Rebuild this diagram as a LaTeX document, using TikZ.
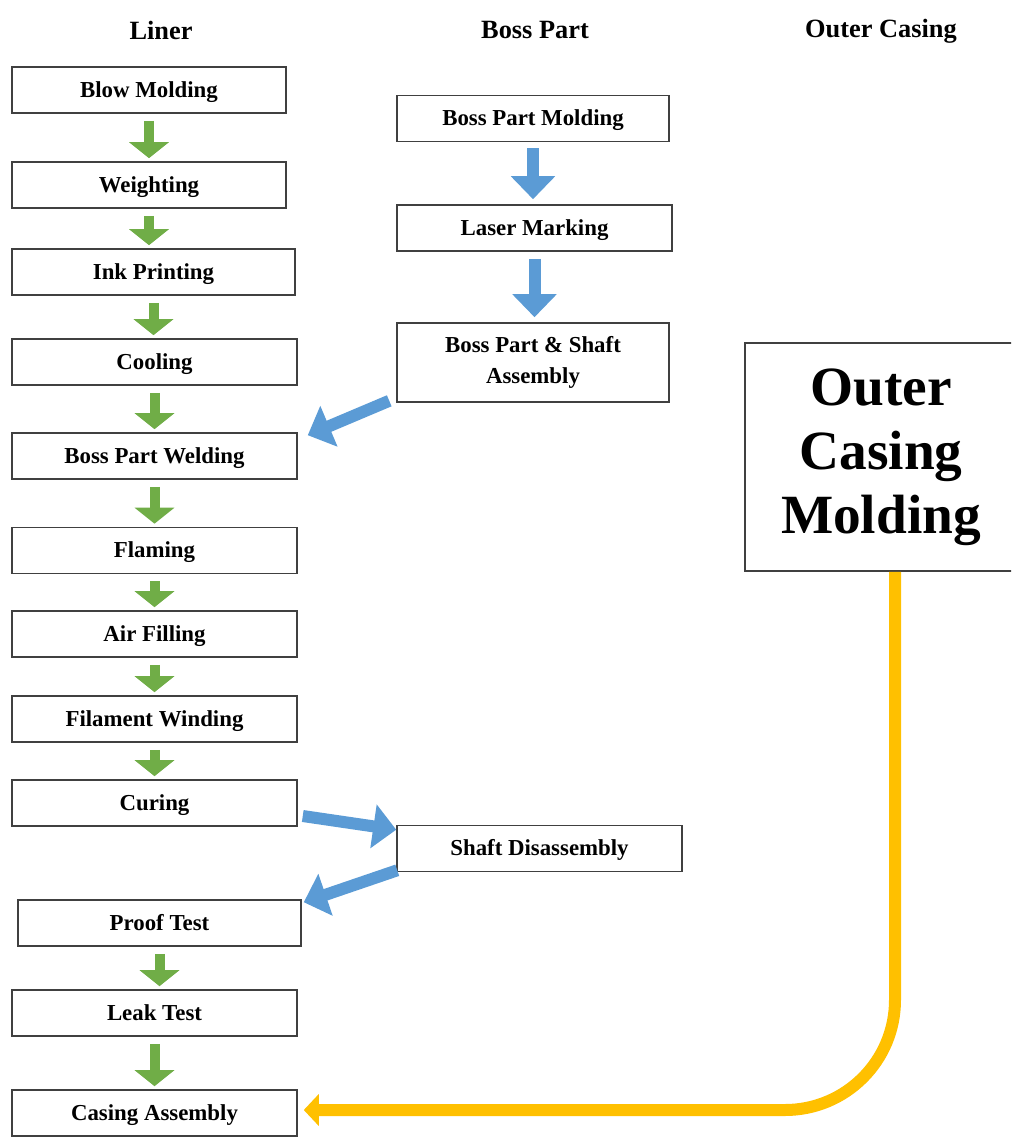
\documentclass[tikz,border=0pt]{standalone}
\usepackage{fontspec}
\setmainfont{Liberation Serif}
\usetikzlibrary{arrows.meta}
\definecolor{boxline}{HTML}{404040}
\definecolor{linergreen}{HTML}{70AD47}
\definecolor{bossblue}{HTML}{5B9BD5}
\definecolor{casingyellow}{HTML}{FFC000}

\begin{document}
\begin{tikzpicture}[x=0.02cm,y=-0.02cm]
          \tikzstyle{title} = [font=\fontsize{15}{18}\selectfont\bfseries]
          \tikzstyle{box} = [rectangle, draw=boxline, line width=0.9pt, font=\fontsize{13}{18}\selectfont\bfseries, minimum height=0.92cm, inner sep=0pt, text height=10.5pt, text depth=2pt]
          \tikzstyle{twobox} = [rectangle, draw=boxline, line width=0.9pt, font=\fontsize{13}{18}\selectfont\bfseries, align=center, inner sep=0pt]
          \tikzstyle{garrow} = [draw=linergreen, line width=0.2cm, -{Triangle[length=0.32cm,width=0.78cm]}, shorten <=0.14cm, shorten >=0.06cm]
          \tikzstyle{barrow} = [draw=bossblue, line width=0.24cm, -{Triangle[length=0.46cm,width=0.86cm]}]
          \tikzstyle{yarrow} = [draw=casingyellow, line width=0.24cm, -{Triangle[length=0.3cm,width=0.62cm]}, rounded corners=2.2cm]
        \useasboundingbox (0,0) rectangle (1011,1139);
        \clip (0,0) rectangle (1011,1139);
        % column titles
        \node[title] (tliner) at (161,30) {Liner};
        \node[title] (tboss) at (535,30) {Boss Part};
        \node[title] (tcasing) at (881,31) {Outer Casing};
        % liner
        \node[box, minimum width=5.48cm] (bm) at (149,90) {Blow Molding};
        \node[box, minimum width=5.48cm] (we) at (149,185) {Weighting};
        \node[box, minimum width=5.66cm] (ip) at (153.5,272) {Ink Printing};
        \node[box, minimum width=5.70cm] (co) at (154.5,362) {Cooling};
        \node[box, minimum width=5.70cm] (bpw) at (154.5,456) {Boss Part Welding};
        \node[box, minimum width=5.70cm] (fl) at (154.5,550.5) {Flaming};
        \node[box, minimum width=5.70cm] (af) at (154.5,634) {Air Filling};
        \node[box, minimum width=5.70cm] (fw) at (154.5,719) {Filament Winding};
        \node[box, minimum width=5.70cm] (cu) at (154.5,803) {Curing};
        \node[box, minimum width=5.66cm] (pt) at (159.5,923) {Proof Test};
        \node[box, minimum width=5.70cm] (lt) at (154.5,1013) {Leak Test};
        \node[box, minimum width=5.70cm] (ca) at (154.5,1113) {Casing Assembly};
        % boss part
        \node[box, minimum width=5.44cm] (bpm) at (533,118.5) {Boss Part Molding};
        \node[box, minimum width=5.50cm] (lm) at (534.5,228) {Laser Marking};
        \node[twobox, minimum width=5.44cm, minimum height=1.58cm] (bpsa) at (533,362.5) {Boss Part \& Shaft\\Assembly};
        \node[box, minimum width=5.70cm] (sd) at (539.5,848.5) {Shaft Disassembly};
        % outer casing
        \node[rectangle, draw=boxline, line width=0.9pt, align=center, minimum width=5.44cm, minimum height=4.56cm, font=\fontsize{31.5}{36.3}\selectfont\bfseries] (ocm) at (881,457) {Outer\\Casing\\Molding};
        \begin{scope}
          \draw[garrow] (bm.south) -- (bm.south |- we.north);
          \draw[garrow] (we.south) -- (we.south |- ip.north);
          \draw[garrow] (ip.south) -- (ip.south |- co.north);
          \draw[garrow] (co.south) -- (co.south |- bpw.north);
          \draw[garrow] (bpw.south) -- (bpw.south |- fl.north);
          \draw[garrow] (fl.south) -- (fl.south |- af.north);
          \draw[garrow] (af.south) -- (af.south |- fw.north);
          \draw[garrow] (fw.south) -- (fw.south |- cu.north);
          \draw[garrow] (pt.south) -- (pt.south |- lt.north);
          \draw[garrow] (lt.south) -- (lt.south |- ca.north);
          \draw[barrow, shorten <=0.12cm, shorten >=0.1cm] (bpm.south) -- (bpm.south |- lm.north);
          \draw[barrow, shorten <=0.14cm, shorten >=0.1cm] (lm.south) -- (lm.south |- bpsa.north);
          \draw[barrow] ([shift={(-7,-2)}]bpsa.south west) -- ([shift={(10,3)}]bpw.north east);
          \draw[barrow] ([shift={(5,13)}]cu.east) -- ([shift={(0,5)}]sd.north west);
          \draw[barrow] ([shift={(1,-2)}]sd.south west) -- ([shift={(2,3)}]pt.north east);
          \draw[yarrow, shorten >=0.12cm] ([xshift=0.28cm]ocm.south) |- ([yshift=0.06cm]ca.east);
        \end{scope}
      \end{tikzpicture}
\end{document}
